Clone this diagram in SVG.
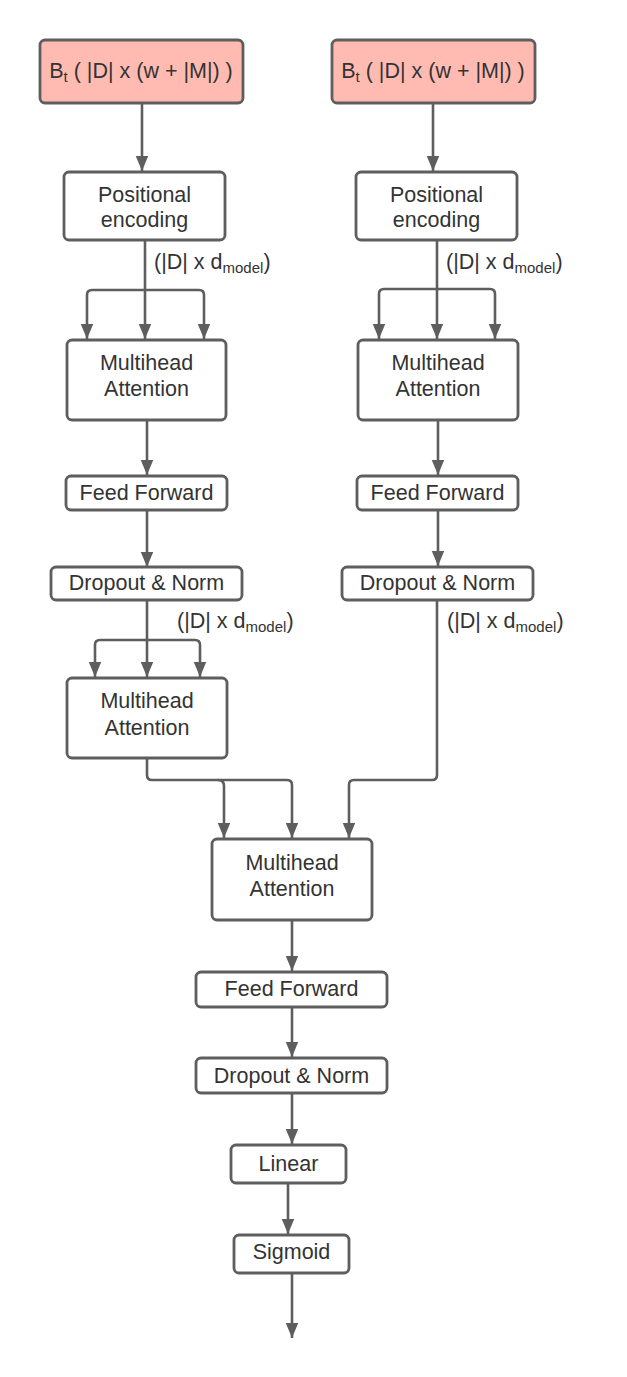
<svg xmlns="http://www.w3.org/2000/svg" width="627" height="1377" viewBox="0 0 627 1377">
<defs>
<marker id="ah" markerUnits="userSpaceOnUse" markerWidth="16" markerHeight="13" refX="15" refY="6.25" orient="auto">
<path d="M0,0 L15,6.25 L0,12.5 z" fill="#5e5e5e"/>
</marker>
<style>
.box{fill:#ffffff;stroke:#5e5e5e;stroke-width:2.8}
.inp{fill:#ffbbb2;stroke:#5e5e5e;stroke-width:2.8}
.t{font-family:"Liberation Sans",Arial,sans-serif;font-size:21.5px;fill:#333333;text-anchor:middle}
.lbl{font-family:"Liberation Sans",Arial,sans-serif;font-size:21.5px;fill:#333333}
.sub{font-size:15px}
.c{fill:none;stroke:#5e5e5e;stroke-width:2.6}
.a{marker-end:url(#ah)}
</style>
</defs>
<rect width="627" height="1377" fill="#ffffff"/>
<g id="connectors">
<path class="c a" d="M142,103 L142,171"/>
<path class="c a" d="M433,103 L433,171"/>
<path class="c a" d="M145,240 L145,339"/>
<path class="c a" d="M145,290 L92,290 Q87,290 87,295 L87,339"/>
<path class="c a" d="M145,290 L199,290 Q204,290 204,295 L204,339"/>
<path class="c a" d="M437,240 L437,339"/>
<path class="c a" d="M437,289 L384,289 Q379,289 379,294 L379,339"/>
<path class="c a" d="M437,289 L490,289 Q495,289 495,294 L495,339"/>
<path class="c a" d="M147,420 L147,475"/>
<path class="c a" d="M438,420 L438,475"/>
<path class="c a" d="M147,510 L147,567"/>
<path class="c a" d="M438,510 L438,566"/>
<path class="c a" d="M147,600 L147,677"/>
<path class="c a" d="M147,640 L100,640 Q95,640 95,645 L95,677"/>
<path class="c a" d="M147,640 L195,640 Q200,640 200,645 L200,677"/>
<path class="c a" d="M147,758 L147,775 Q147,780 152,780 L287,780 Q292,780 292,785 L292,838"/>
<path class="c a" d="M218,780 Q224,780 224,786 L224,838"/>
<path class="c a" d="M437,600 L437,775 Q437,780 432,780 L354,780 Q349,780 349,785 L349,838"/>
<path class="c a" d="M292,920 L292,971"/>
<path class="c a" d="M292,1007 L292,1057"/>
<path class="c a" d="M292,1093 L292,1144"/>
<path class="c a" d="M288,1183 L288,1234"/>
<path class="c a" d="M292,1273 L292,1338"/>
<text class="lbl" x="154" y="269">(|D| x d<tspan class="sub" dy="4">model</tspan><tspan dy="-4">)</tspan></text>
<text class="lbl" x="446" y="269">(|D| x d<tspan class="sub" dy="4">model</tspan><tspan dy="-4">)</tspan></text>
<text class="lbl" x="177" y="628">(|D| x d<tspan class="sub" dy="4">model</tspan><tspan dy="-4">)</tspan></text>
<text class="lbl" x="447" y="628">(|D| x d<tspan class="sub" dy="4">model</tspan><tspan dy="-4">)</tspan></text>
</g>
<g id="input-left">
<rect class="inp" x="40" y="40" width="203" height="63" rx="5"/>
<text class="t" x="141" y="78">B<tspan class="sub" dy="4">t</tspan><tspan dy="-4"> ( |D| x (w + |M|) )</tspan></text>
</g>
<g id="input-right">
<rect class="inp" x="332" y="40" width="203" height="63" rx="5"/>
<text class="t" x="433" y="78">B<tspan class="sub" dy="4">t</tspan><tspan dy="-4"> ( |D| x (w + |M|) )</tspan></text>
</g>
<g id="pe-left">
<rect class="box" x="64" y="172" width="161" height="68" rx="5"/>
<text class="t" x="144.5" y="202">Positional</text>
<text class="t" x="144.5" y="227">encoding</text>
</g>
<g id="pe-right">
<rect class="box" x="356" y="172" width="161" height="68" rx="5"/>
<text class="t" x="436.5" y="202">Positional</text>
<text class="t" x="436.5" y="227">encoding</text>
</g>
<g id="mha-left">
<rect class="box" x="67" y="340" width="159" height="80" rx="5"/>
<text class="t" x="146.5" y="370">Multihead</text>
<text class="t" x="146.5" y="396">Attention</text>
</g>
<g id="mha-right">
<rect class="box" x="358" y="340" width="160" height="80" rx="5"/>
<text class="t" x="438" y="370">Multihead</text>
<text class="t" x="438" y="396">Attention</text>
</g>
<g id="ff-left">
<rect class="box" x="66" y="476" width="161" height="34" rx="5"/>
<text class="t" x="146.5" y="500">Feed Forward</text>
</g>
<g id="ff-right">
<rect class="box" x="357" y="476" width="161" height="34" rx="5"/>
<text class="t" x="437.5" y="500">Feed Forward</text>
</g>
<g id="dn-left">
<rect class="box" x="51" y="567" width="191" height="33" rx="5"/>
<text class="t" x="146.5" y="590">Dropout &amp; Norm</text>
</g>
<g id="dn-right">
<rect class="box" x="342" y="567" width="191" height="33" rx="5"/>
<text class="t" x="437.5" y="590">Dropout &amp; Norm</text>
</g>
<g id="mha-left-2">
<rect class="box" x="67" y="678" width="160" height="80" rx="5"/>
<text class="t" x="147" y="708">Multihead</text>
<text class="t" x="147" y="735">Attention</text>
</g>
<g id="mha-merge">
<rect class="box" x="212" y="839" width="160" height="81" rx="5"/>
<text class="t" x="292" y="870">Multihead</text>
<text class="t" x="292" y="896">Attention</text>
</g>
<g id="ff-merge">
<rect class="box" x="196" y="972" width="191" height="35" rx="5"/>
<text class="t" x="291.5" y="996">Feed Forward</text>
</g>
<g id="dn-merge">
<rect class="box" x="196" y="1058" width="191" height="35" rx="5"/>
<text class="t" x="291.5" y="1083">Dropout &amp; Norm</text>
</g>
<g id="linear">
<rect class="box" x="231" y="1145" width="115" height="38" rx="5"/>
<text class="t" x="288.5" y="1171">Linear</text>
</g>
<g id="sigmoid">
<rect class="box" x="234" y="1235" width="115" height="38" rx="5"/>
<text class="t" x="291.5" y="1259">Sigmoid</text>
</g>
</svg>
